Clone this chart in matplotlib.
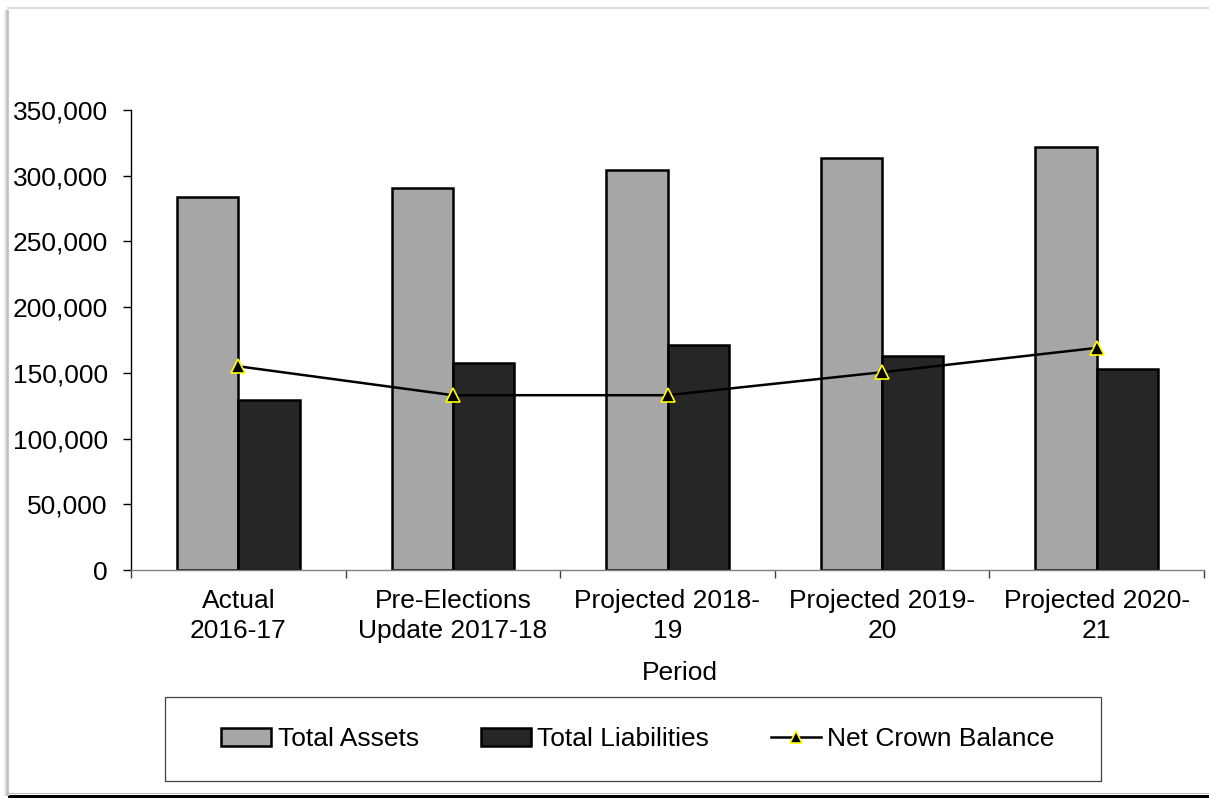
import matplotlib
matplotlib.use("Agg")
import numpy as np
import matplotlib.pyplot as plt
from matplotlib.patches import Rectangle
from matplotlib.lines import Line2D
from matplotlib.ticker import FuncFormatter

plt.rcParams['font.family'] = ['Liberation Sans', 'DejaVu Sans']

# Data
periods = ["Actual\n2016-17", "Pre-Elections\nUpdate 2017-18", "Projected 2018-\n19",
           "Projected 2019-\n20", "Projected 2020-\n21"]
total_assets = [284000, 290500, 304000, 313500, 322000]
total_liabilities = [129000, 157500, 171000, 163000, 153000]
net_crown_balance = [155000, 133000, 133000, 150500, 169000]
y_ticks = [0, 50000, 100000, 150000, 200000, 250000, 300000, 350000]

ASSET_COLOR = "#A6A6A6"
LIAB_COLOR = "#262626"

W, H = 1209, 798
fig = plt.figure(figsize=(W / 100, H / 100), dpi=100)


def fx(px):
    return px / W


def fy(py):
    return 1 - py / H


ax = fig.add_axes([fx(131), fy(570), fx(1204) - fx(131), fy(110) - fy(570)])

x = np.arange(len(periods))
width = 2 / 7
ax.bar(x - width / 2, total_assets, width, color=ASSET_COLOR, edgecolor="black",
       linewidth=1.8, zorder=2)
ax.bar(x + width / 2, total_liabilities, width, color=LIAB_COLOR, edgecolor="black",
       linewidth=1.8, zorder=2)
ax.plot(x, net_crown_balance, color="black", linewidth=1.8, marker="^", markersize=9.5,
        markerfacecolor="black", markeredgecolor="#FFFF00", markeredgewidth=1.2,
        zorder=5, clip_on=False)

ax.set_xlim(-0.5, len(periods) - 0.5)
ax.set_ylim(0, 350000)

for side in ("top", "right"):
    ax.spines[side].set_visible(False)
ax.spines["left"].set_color("black")
ax.spines["left"].set_linewidth(1.0)
ax.spines["bottom"].set_color("#808080")
ax.spines["bottom"].set_linewidth(1.0)

ax.set_yticks(y_ticks)
ax.yaxis.set_major_formatter(FuncFormatter(lambda v, p: f"{v:,.0f}"))
ax.tick_params(axis="y", length=5.8, width=1.0, pad=11, labelsize=19, colors="black")

ax.set_xticks(x)
ax.set_xticklabels(periods)
ax.set_xticks(np.arange(-0.5, len(periods), 1.0), minor=True)
ax.tick_params(axis="x", which="major", length=0, pad=14, labelsize=19)
ax.tick_params(axis="x", which="minor", length=5.8, width=1.0, color="#404040")
for lbl in ax.get_xticklabels():
    lbl.set_linespacing(1.3)

fig.text(fx(680), fy(673), "Period", ha="center", va="center", fontsize=19)

# Legend
handles = [
    Rectangle((0, 0), 1, 1, facecolor=ASSET_COLOR, edgecolor="black", linewidth=1.8),
    Rectangle((0, 0), 1, 1, facecolor=LIAB_COLOR, edgecolor="black", linewidth=1.8),
    Line2D([], [], color="black", linewidth=1.8, marker="^", markersize=9,
           markerfacecolor="black", markeredgecolor="#FFFF00", markeredgewidth=1.2),
]
fig.legend(handles, ["Total Assets", "Total Liabilities", "Net Crown Balance"],
           loc="center", bbox_to_anchor=(fx(638), fy(739)), ncol=3, frameon=False,
           fontsize=19, handlelength=1.9, handleheight=0.65, handletextpad=0.25,
           columnspacing=2.33)
fig.add_artist(Rectangle((fx(165), fy(781)), fx(1101) - fx(165), fy(697) - fy(781),
                         transform=fig.transFigure, fill=False, edgecolor="#404040",
                         linewidth=0.9))

# Outer frame: light top edge, shaded left edge, dark bottom edge
fig.add_artist(Line2D([fx(8), fx(1209)], [fy(8), fy(8)], transform=fig.transFigure,
                      color="#DDDDDD", linewidth=1.5))
for px, c in [(3, "#F2F2F2"), (4, "#E2E2E2"), (5, "#CFCFCF"), (6, "#BDBDBD"), (7, "#C9C9C9")]:
    fig.add_artist(Line2D([fx(px + 0.5), fx(px + 0.5)], [fy(10), fy(795)],
                          transform=fig.transFigure, color=c, linewidth=0.75))
fig.add_artist(Rectangle((fx(8), 0), 1 - fx(8), fy(794.5), transform=fig.transFigure,
                         facecolor="black", edgecolor="none"))
fig.add_artist(Line2D([fx(8), fx(1209)], [fy(793), fy(793)], transform=fig.transFigure,
                      color="#BBBBBB", linewidth=0.75))

fig.savefig("out.png", dpi=100)
